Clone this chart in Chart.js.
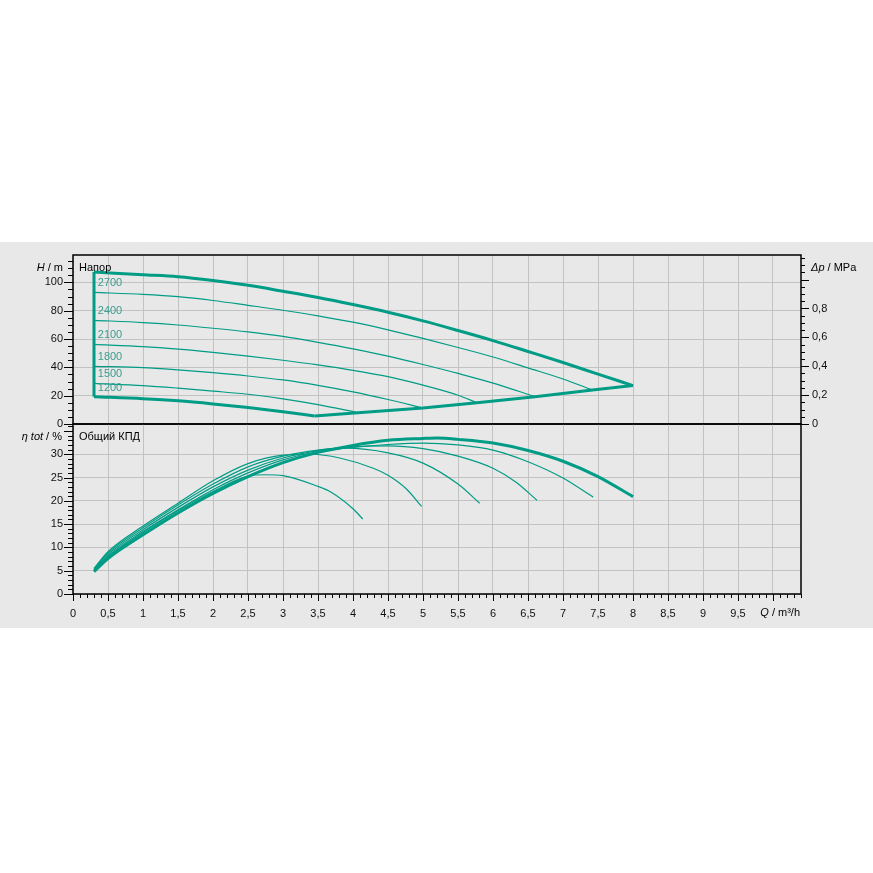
<!DOCTYPE html>
<html>
<head>
<meta charset="utf-8">
<script src="https://cdn.jsdelivr.net/npm/chart.js@4.4.1/dist/chart.umd.min.js"></script>
<style>
  body { margin: 0; background: #fff; }
  #panel { position: absolute; left: 0; top: 242px; width: 873px; height: 386px; background: #e8e8e8; }
  #headChart { position: absolute; left: 0; top: 0; }
  #effChart { position: absolute; left: 0; top: 175px; }
</style>
</head>
<body>
<div id="panel">
  <canvas id="headChart" width="873" height="190"></canvas>
  <canvas id="effChart" width="873" height="211"></canvas>
</div>
<script>
// ---- data ----
// head curves H(Q), Q in m3/h, H in m
var maxQ = [0.3, 1, 1.5, 2, 2.5, 3, 3.5, 4, 4.5, 5, 5.5, 6, 6.5, 7, 7.5, 8];
var maxH = [107.3, 105.4, 104.0, 101.3, 97.9, 93.7, 89.3, 84.3, 78.9, 72.8, 66.0, 58.9, 51.2, 43.4, 35.2, 27.1];

var q2700 = [0.3, 1, 1.5, 2, 2.5, 3, 3.5, 4, 4.5, 5, 5.5, 6, 6.5, 7, 7.42];
var h2700 = [92.9, 91.5, 89.9, 87.2, 83.8, 80.3, 76.3, 71.9, 66.5, 60.4, 54.0, 47.3, 39.6, 31.8, 24.0];

var q2400 = [0.3, 1, 1.5, 2, 2.5, 3, 3.5, 4, 4.5, 5, 5.5, 6, 6.6];
var h2400 = [73.2, 71.6, 69.9, 67.6, 65.0, 61.8, 57.6, 53.0, 47.9, 42.0, 35.7, 28.9, 19.3];

var q2100 = [0.3, 1, 1.5, 2, 2.5, 3, 3.5, 4, 4.5, 5, 5.5, 5.77];
var h2100 = [56.2, 54.6, 52.8, 50.5, 47.9, 45.0, 41.7, 37.9, 33.4, 27.4, 20.3, 15.0];

var q1800 = [0.3, 1, 1.5, 2, 2.5, 3, 3.5, 4, 4.5, 5.0];
var h1800 = [40.7, 39.8, 38.2, 36.2, 33.9, 31.1, 27.3, 22.7, 17.3, 11.3];

var q1500 = [0.3, 1, 1.5, 2, 2.5, 3, 3.5, 4.07];
var h1500 = [28.7, 27.1, 25.3, 23.2, 21.0, 17.8, 13.7, 8.0];

var q1200 = [0.3, 1, 1.5, 2, 2.5, 3, 3.45];
var h1200 = [19.3, 17.9, 16.4, 14.2, 11.6, 8.7, 5.7];

// end of the speed curves (lower right limit) and the min flow line
var limitQ = [3.45, 4.07, 5.0, 5.77, 6.6, 7.42, 8.0];
var limitH = [5.7, 8.0, 11.3, 15.0, 19.3, 24.0, 27.1];
var minFlowQ = [0.3, 0.3];
var minFlowH = [19.3, 107.3];

var speedNames = ['2700', '2400', '2100', '1800', '1500', '1200'];

// total efficiency curves eta(Q), %
var etaMaxQ = [0.3, 0.5, 1, 1.5, 2, 2.5, 3, 3.5, 4, 4.5, 5, 5.2, 5.5, 6, 6.5, 7, 7.5, 8];
var etaMax  = [4.8, 7.6, 12.7, 17.4, 21.6, 25.2, 28.2, 30.4, 31.9, 33.0, 33.4, 33.5, 33.2, 32.4, 30.8, 28.5, 25.2, 20.9];

var eQ2700 = [0.3, 0.5, 1, 1.5, 2, 2.5, 3, 3.5, 4, 4.5, 5, 5.5, 6, 6.5, 7, 7.43];
var eta2700 = [5.0, 8.2, 13.4, 18.1, 22.4, 26.0, 28.8, 30.6, 31.5, 32.1, 32.4, 32.0, 30.9, 28.4, 24.9, 20.8];

var eQ2400 = [0.3, 0.5, 1, 1.5, 2, 2.5, 3, 3.5, 4, 4.5, 5, 5.5, 6, 6.33, 6.63];
var eta2400 = [5.2, 8.5, 13.8, 18.6, 23.0, 26.6, 29.2, 30.8, 31.6, 31.8, 31.2, 29.6, 27.0, 24.0, 20.1];

var eQ2100 = [0.3, 0.5, 1, 1.5, 2, 2.5, 3, 3.5, 3.9, 4.5, 5, 5.5, 5.81];
var eta2100 = [5.4, 8.8, 14.2, 19.1, 23.6, 27.3, 29.6, 30.9, 31.3, 30.3, 28.1, 23.6, 19.5];

var eQ1800 = [0.3, 0.5, 1, 1.5, 2, 2.5, 3, 3.4, 3.81, 4.29, 4.5, 4.76, 4.98];
var eta1800 = [5.5, 9.1, 14.6, 19.5, 24.3, 28.0, 29.8, 30.0, 29.2, 27.0, 25.5, 22.6, 18.8];

var eQ1500 = [0.3, 0.5, 1, 1.5, 2, 2.5, 2.75, 3.0, 3.5, 3.67, 4.0, 4.14];
var eta1500 = [5.1, 8.0, 13.2, 17.9, 22.0, 25.3, 25.6, 25.4, 23.1, 22.0, 18.3, 16.1];

// axes
var qMax = 10.4;
var hMax = 119.3;
var etaAxisMax = 36.5;
var mPaPerM = 0.00981;

var qTicks = [0, 0.5, 1, 1.5, 2, 2.5, 3, 3.5, 4, 4.5, 5, 5.5, 6, 6.5, 7, 7.5, 8, 8.5, 9, 9.5, 10];
var qTickLabels = ['0', '0,5', '1', '1,5', '2', '2,5', '3', '3,5', '4', '4,5', '5', '5,5', '6', '6,5', '7', '7,5', '8', '8,5', '9', '9,5', ''];
var hTicks = [0, 20, 40, 60, 80, 100];
var hTickLabels = ['0', '20', '40', '60', '80', '100'];
var dpTicks = [0, 0.2, 0.4, 0.6, 0.8];
var dpTickLabels = ['0', '0,2', '0,4', '0,6', '0,8'];
var etaTicks = [0, 5, 10, 15, 20, 25, 30];
var etaTickLabels = ['0', '5', '10', '15', '20', '25', '30'];

var TEAL = '#009c85';
var FONT = "'Liberation Sans', Arial, sans-serif";
Chart.defaults.font.family = FONT;
Chart.defaults.font.size = 11;
Chart.defaults.color = '#111';

function pts(xs, ys) {
  return xs.map(function (x, i) { return { x: x, y: ys[i] }; });
}

function curve(label, xs, ys, thick, smooth) {
  return {
    label: label,
    data: pts(xs, ys),
    borderColor: TEAL,
    borderWidth: thick ? 3 : 1.2,
    pointRadius: 0,
    fill: false,
    tension: 0,
    cubicInterpolationMode: smooth ? 'monotone' : 'default'
  };
}

function setTicks(values) {
  return function (s) { s.ticks = values.map(function (v) { return { value: v }; }); };
}
function noPad(s) {
  s.paddingTop = 0; s.paddingBottom = 0; s.paddingLeft = 0; s.paddingRight = 0;
}

function drawParts(ctx, parts, x, y, align) {
  var w = 0;
  parts.forEach(function (p) {
    ctx.font = (p[1] ? 'italic ' : '') + '11px ' + FONT;
    w += ctx.measureText(p[0]).width;
  });
  var cx = align === 'right' ? x - w : x;
  parts.forEach(function (p) {
    ctx.font = (p[1] ? 'italic ' : '') + '11px ' + FONT;
    ctx.fillText(p[0], cx, y);
    cx += ctx.measureText(p[0]).width;
  });
}

// frame, minor/major tick marks, axis titles
var decor = {
  id: 'decor',
  afterDraw: function (chart, args, opts) {
    var ctx = chart.ctx, a = chart.chartArea;
    ctx.save();
    ctx.strokeStyle = '#000';
    ctx.lineWidth = 1;
    (opts.marks || []).forEach(function (m) {
      var s = chart.scales[m.axis];
      var n = Math.floor((s.max - s.min) / m.minor + 1e-6);
      ctx.beginPath();
      for (var i = 0; i <= n; i++) {
        var v = s.min + i * m.minor;
        var r = v / m.major;
        var len = Math.abs(r - Math.round(r)) < 1e-6 ? m.majorLen : m.minorLen;
        var p = Math.round(s.getPixelForValue(v)) + 0.5;
        if (m.side === 'left') { ctx.moveTo(a.left, p); ctx.lineTo(a.left - len, p); }
        if (m.side === 'right') { ctx.moveTo(a.right, p); ctx.lineTo(a.right + len, p); }
        if (m.side === 'bottom') { ctx.moveTo(p, a.bottom); ctx.lineTo(p, a.bottom + len); }
      }
      ctx.stroke();
    });
    ctx.lineWidth = 1.5;
    ctx.strokeRect(a.left, a.top, a.right - a.left, a.bottom - a.top);

    ctx.fillStyle = '#000';
    ctx.textBaseline = 'middle';
    (opts.titles || []).forEach(function (t) {
      var x = t.ref === 'left' ? a.left + t.dx : a.right + t.dx;
      var y = t.vref === 'bottom' ? a.bottom + t.dy : a.top + t.dy;
      drawParts(ctx, t.parts, x, y, t.align);
    });

    if (opts.speedLabels) {
      var xs = chart.scales.x, ys = chart.scales.y;
      ctx.fillStyle = '#3a9d8f';
      ctx.textAlign = 'center';
      ctx.font = '11px ' + FONT;
      opts.speedLabels.forEach(function (lab, i) {
        var d = chart.data.datasets[i + 1].data[0];
        ctx.fillText(lab, xs.getPixelForValue(d.x) + 16, ys.getPixelForValue(d.y) - 9);
      });
    }
    ctx.restore();
  }
};

var gridColor = '#c2c2c2';

var xAxisTop = {
  type: 'linear', min: 0, max: qMax, bounds: 'data',
  afterBuildTicks: setTicks(qTicks),
  afterFit: function (s) { s.height = 0; noPad(s); },
  ticks: { display: false },
  grid: { color: gridColor, lineWidth: 1, drawTicks: false },
  border: { display: false }
};

new Chart(document.getElementById('headChart'), {
  type: 'line',
  data: {
    datasets: [
      curve('max', maxQ, maxH, true, true),
      curve('2700', q2700, h2700, false, true),
      curve('2400', q2400, h2400, false, true),
      curve('2100', q2100, h2100, false, true),
      curve('1800', q1800, h1800, false, true),
      curve('1500', q1500, h1500, false, true),
      curve('1200', q1200, h1200, true, true),
      curve('limit', limitQ, limitH, true, false),
      curve('minflow', minFlowQ, minFlowH, true, false)
    ]
  },
  options: {
    responsive: false,
    animation: false,
    layout: { padding: { top: 13, bottom: 8, left: 0, right: 0 } },
    plugins: {
      legend: { display: false },
      tooltip: { enabled: false },
      decor: {
        marks: [
          { axis: 'y', side: 'left', minor: 5, major: 20, minorLen: 5, majorLen: 9 },
          { axis: 'dp', side: 'right', minor: 0.05, major: 0.2, minorLen: 4, majorLen: 8 }
        ],
        titles: [
          { parts: [['H', true], [' / m', false]], ref: 'left', dx: -10, dy: 13, align: 'right' },
          { parts: [['Напор', false]], ref: 'left', dx: 6, dy: 13, align: 'left' },
          { parts: [['\u0394p', true], [' / MPa', false]], ref: 'right', dx: 10, dy: 13, align: 'left' }
        ],
        speedLabels: speedNames
      }
    },
    scales: {
      x: xAxisTop,
      y: {
        type: 'linear', position: 'left', min: 0, max: hMax, bounds: 'data',
        afterBuildTicks: setTicks(hTicks),
        afterFit: function (s) { s.width = 73; noPad(s); },
        ticks: { padding: 10, callback: function (v, i) { return hTickLabels[i]; } },
        grid: { color: gridColor, lineWidth: 1, drawTicks: false },
        border: { display: false }
      },
      dp: {
        type: 'linear', position: 'right', min: 0, max: hMax * mPaPerM, bounds: 'data',
        afterBuildTicks: setTicks(dpTicks),
        afterFit: function (s) { s.width = 72; noPad(s); },
        ticks: { padding: 11, callback: function (v, i) { return dpTickLabels[i]; } },
        grid: { display: false, drawTicks: false },
        border: { display: false }
      }
    }
  },
  plugins: [decor]
});

new Chart(document.getElementById('effChart'), {
  type: 'line',
  data: {
    datasets: [
      curve('max', etaMaxQ, etaMax, true, true),
      curve('2700', eQ2700, eta2700, false, true),
      curve('2400', eQ2400, eta2400, false, true),
      curve('2100', eQ2100, eta2100, false, true),
      curve('1800', eQ1800, eta1800, false, true),
      curve('1500', eQ1500, eta1500, false, true)
    ]
  },
  options: {
    responsive: false,
    animation: false,
    layout: { padding: { top: 7, bottom: 0, left: 0, right: 72 } },
    plugins: {
      legend: { display: false },
      tooltip: { enabled: false },
      decor: {
        marks: [
          { axis: 'y', side: 'left', minor: 1, major: 5, minorLen: 5, majorLen: 9 },
          { axis: 'x', side: 'bottom', minor: 0.1, major: 0.5, minorLen: 4, majorLen: 7 }
        ],
        titles: [
          { parts: [['\u03b7 tot', true], [' / %', false]], ref: 'left', dx: -11, dy: 13, align: 'right' },
          { parts: [['Общий КПД', false]], ref: 'left', dx: 6, dy: 13, align: 'left' },
          { parts: [['Q', true], [' / m\u00b3/h', false]], ref: 'right', dx: -1, dy: 19, vref: 'bottom', align: 'right' }
        ]
      }
    },
    scales: {
      x: {
        type: 'linear', position: 'bottom', min: 0, max: qMax, bounds: 'data',
        afterBuildTicks: setTicks(qTicks),
        afterFit: function (s) { s.height = 34; noPad(s); },
        ticks: { padding: 13, autoSkip: false, maxRotation: 0, callback: function (v, i) { return qTickLabels[i]; } },
        grid: { color: gridColor, lineWidth: 1, drawTicks: false },
        border: { display: false }
      },
      y: {
        type: 'linear', position: 'left', min: 0, max: etaAxisMax, bounds: 'data',
        afterBuildTicks: setTicks(etaTicks),
        afterFit: function (s) { s.width = 73; noPad(s); },
        ticks: { padding: 10, callback: function (v, i) { return etaTickLabels[i]; } },
        grid: { color: gridColor, lineWidth: 1, drawTicks: false },
        border: { display: false }
      }
    }
  },
  plugins: [decor]
});
</script>
</body>
</html>
